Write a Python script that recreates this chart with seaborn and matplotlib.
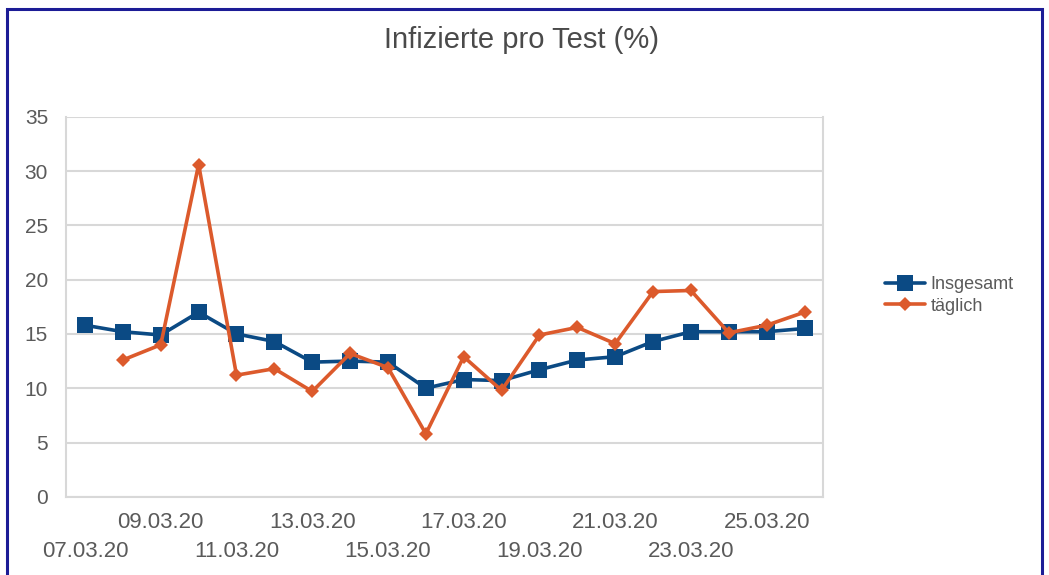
import numpy as np
import pandas as pd
import matplotlib
matplotlib.use("Agg")
import matplotlib.pyplot as plt
import matplotlib.patches as patches
import matplotlib.transforms as mtransforms
import seaborn as sns

# Data
dates = ["07.03.20", "08.03.20", "09.03.20", "10.03.20", "11.03.20",
         "12.03.20", "13.03.20", "14.03.20", "15.03.20", "16.03.20",
         "17.03.20", "18.03.20", "19.03.20", "20.03.20", "21.03.20",
         "22.03.20", "23.03.20", "24.03.20", "25.03.20", "26.03.20"]
insgesamt = [15.8, 15.2, 14.9, 17.0, 15.0, 14.3, 12.4, 12.5, 12.4, 10.0,
             10.8, 10.7, 11.7, 12.6, 12.9, 14.3, 15.2, 15.2, 15.2, 15.5]
taeglich = [np.nan, 12.6, 14.0, 30.6, 11.2, 11.8, 9.7, 13.2, 11.9, 5.8,
            12.9, 9.8, 14.9, 15.6, 14.1, 18.9, 19.0, 15.1, 15.8, 17.0]
y_ticks = [0, 5, 10, 15, 20, 25, 30, 35]

df = pd.DataFrame({"pos": np.arange(len(dates)), "date": dates,
                   "Insgesamt": insgesamt, "täglich": taeglich})

sns.set_style("white")
plt.rcParams["font.family"] = ["Liberation Sans", "DejaVu Sans"]

blue = "#0b4a84"
orange = "#dc5a2c"
grey_txt = "#5a5a5a"
grid_c = "#d8d8d8"

fig = plt.figure(figsize=(10.49, 5.75), dpi=100)
ax = fig.add_axes([0.063, 0.136, 0.722, 0.661])

sns.lineplot(data=df, x="pos", y="Insgesamt", ax=ax, color=blue, lw=2.6,
             marker="s", markersize=12, markeredgewidth=0, label="Insgesamt")
sns.lineplot(data=df.dropna(), x="pos", y="täglich", ax=ax, color=orange, lw=2.6,
             marker="D", markersize=7.5, markeredgewidth=0, label="täglich")

ax.set_xlim(-0.5, len(dates) - 0.5)
ax.set_ylim(0, 35)
ax.set_yticks(y_ticks)
ax.set_yticklabels([str(v) for v in y_ticks], fontsize=15, color=grey_txt)
ax.yaxis.grid(True, color=grid_c, lw=1.5)
ax.set_axisbelow(True)

# tick marks between every second day, no major labels
ax.set_xticks([])
ax.set_xticks(np.arange(-0.5, len(dates), 2), minor=True)
ax.tick_params(axis="x", which="minor", length=7, color=grid_c, width=1.5)
ax.tick_params(axis="y", length=7, color=grid_c, width=1.5, pad=6)

# date labels on every second day, staggered in two rows
trans = mtransforms.blended_transform_factory(ax.transData, ax.transAxes)
for k, (p, d) in enumerate(zip(df["pos"].values[::2], dates[::2])):
    y_off = -0.068 if k % 2 == 1 else -0.145
    ax.text(p, y_off, d, transform=trans, fontsize=16, color=grey_txt,
            ha="center", va="center")

for s in ["left", "right", "bottom"]:
    ax.spines[s].set_color(grid_c)
    ax.spines[s].set_linewidth(1.5)
ax.spines["top"].set_visible(False)
ax.set_xlabel("")
ax.set_ylabel("")

fig.text(0.497, 0.93, "Infizierte pro Test (%)", fontsize=21, color="#4a4a4a",
         ha="center", va="center")

leg = ax.legend(loc="center left", bbox_to_anchor=(1.06, 0.53), frameon=False,
                fontsize=13, handlelength=2.2, handletextpad=0.3, labelspacing=0.25)
for t in leg.get_texts():
    t.set_color(grey_txt)

# dark blue frame around the picture
fig.patches.append(patches.Rectangle((0.0067, -0.05), 0.9866, 1.034,
                                     transform=fig.transFigure, fill=False,
                                     edgecolor="#1c1c96", lw=2.2))

fig.savefig("out.png", dpi=100, facecolor="white")
